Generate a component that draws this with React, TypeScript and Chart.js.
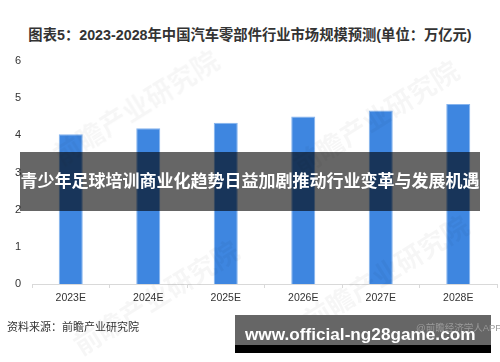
import React, { useEffect, useRef } from "react";
import { Chart, registerables } from "chart.js";

Chart.register(...registerables);

const categories = ["2023E", "2024E", "2025E", "2026E", "2027E", "2028E"];
const marketSize = [4.03, 4.19, 4.34, 4.51, 4.67, 4.84];
const yTicks = [0, 1, 2, 3, 4, 5, 6];

const TITLE = "图表5：2023-2028年中国汽车零部件行业市场规模预测(单位：万亿元)";
const OVERLAY = "青少年足球培训商业化趋势日益加剧推动行业变革与发展机遇";
const SOURCE = "资料来源：前瞻产业研究院";
const SITE = "www.official-ng28game.com";
const APP = "@前瞻经济学人APP";
const WATERMARK = "前瞻产业研究院";

const CJK = '"Liberation Sans", "Noto Sans CJK SC", sans-serif';

export default function App() {
  const canvasRef = useRef<HTMLCanvasElement | null>(null);

  useEffect(() => {
    if (!canvasRef.current) return;
    const chart = new Chart(canvasRef.current, {
      type: "bar",
      data: {
        labels: categories,
        datasets: [
          {
            data: marketSize,
            backgroundColor: "#3e86e0",
            borderColor: "#86b4ee",
            borderWidth: 1,
            barPercentage: 0.31,
            categoryPercentage: 1,
          },
        ],
      },
      options: {
        animation: false,
        responsive: true,
        maintainAspectRatio: false,
        layout: { padding: { top: 61, right: 3, left: 0, bottom: 0 } },
        plugins: { legend: { display: false }, tooltip: { enabled: false } },
        scales: {
          x: {
            grid: {
              display: true,
              drawOnChartArea: false,
              drawTicks: true,
              tickLength: 4,
              color: "#d9d9d9",
              offset: true,
            },
            border: { display: true, color: "#d9d9d9" },
            ticks: {
              color: "#333",
              padding: 4,
              font: { size: 10.5, family: CJK },
            },
            afterFit: (s: any) => {
              s.height = 78;
            },
          },
          y: {
            min: 0,
            max: 6,
            afterBuildTicks: (s: any) => {
              s.ticks = yTicks.map((v) => ({ value: v }));
            },
            grid: { display: false, drawTicks: false },
            border: { display: false },
            ticks: {
              color: "#333",
              padding: 11,
              font: { size: 11, family: CJK },
            },
            afterFit: (s: any) => {
              s.width = 32;
            },
          },
        },
      },
    });
    return () => chart.destroy();
  }, []);

  const wm = (left: number, top: number, size: number) => (
    <div
      style={{
        position: "absolute",
        left,
        top,
        fontSize: size,
        fontWeight: 700,
        fontFamily: CJK,
        color: "rgba(0,0,0,0.035)",
        transform: "rotate(-32deg)",
        transformOrigin: "left top",
        whiteSpace: "nowrap",
        pointerEvents: "none",
      }}
    >
      {WATERMARK}
    </div>
  );

  return (
    <div
      style={{
        position: "absolute",
        left: 0,
        top: 0,
        width: 500,
        height: 362,
        background: "#fff",
        overflow: "hidden",
      }}
    >
      <div
        style={{
          position: "absolute",
          left: 0,
          top: 23,
          width: 500,
          textAlign: "center",
          fontFamily: CJK,
          fontWeight: 700,
          fontSize: 14.3,
          color: "#333",
          whiteSpace: "nowrap",
        }}
      >
        {TITLE}
      </div>
      <div style={{ position: "absolute", left: 0, top: 0, width: 500, height: 362 }}>
        <canvas ref={canvasRef} />
      </div>
      {wm(45, 140, 27)}
      {wm(285, 150, 27)}
      {wm(65, 330, 27)}
      {wm(295, 305, 27)}
      <div
        style={{
          position: "absolute",
          left: 20,
          top: 152,
          width: 460,
          height: 59,
          background: "rgba(0,0,0,0.6)",
        }}
      />
      <div
        style={{
          position: "absolute",
          left: 20,
          top: 152,
          width: 460,
          height: 59,
          lineHeight: "59px",
          textAlign: "center",
          color: "#fff",
          fontFamily: CJK,
          fontWeight: 700,
          fontSize: 17,
          whiteSpace: "nowrap",
        }}
      >
        {OVERLAY}
      </div>
      <div
        style={{
          position: "absolute",
          left: 7,
          top: 318,
          fontFamily: CJK,
          fontSize: 11,
          color: "#333",
          whiteSpace: "nowrap",
        }}
      >
        {SOURCE}
      </div>
      <div
        style={{
          position: "absolute",
          left: 235,
          top: 315,
          width: 256,
          height: 30,
          background: "#666",
        }}
      />
      <div
        style={{
          position: "absolute",
          left: 235,
          top: 345,
          width: 256,
          height: 8,
          background: "#000",
        }}
      />
      <div
        style={{
          position: "absolute",
          left: 416,
          top: 320,
          fontFamily: CJK,
          fontSize: 9.5,
          color: "#9a9a9a",
          whiteSpace: "nowrap",
        }}
      >
        {APP}
      </div>
      <div
        style={{
          position: "absolute",
          left: 245,
          top: 323,
          fontFamily: CJK,
          fontWeight: 700,
          fontSize: 17.2,
          color: "#fff",
          whiteSpace: "nowrap",
          lineHeight: "22px",
        }}
      >
        {SITE}
      </div>
    </div>
  );
}
